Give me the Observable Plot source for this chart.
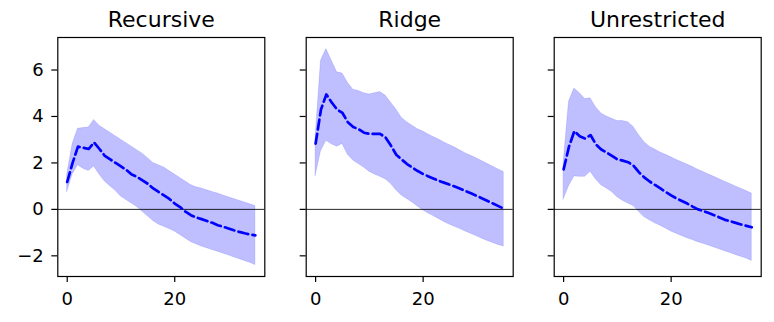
<!DOCTYPE html>
<html>
<head>
<meta charset="utf-8">
<script src="https://cdn.jsdelivr.net/npm/d3@7"></script>
<script src="https://cdn.jsdelivr.net/npm/@observablehq/plot@0.6"></script>
<style>
  html, body { margin: 0; padding: 0; background: white; }
  #chart { display: flex; width: 774px; height: 322px; }
  #chart svg { display: block; background: transparent; }
</style>
</head>
<body>
<div id="chart"></div>
<script>
const titles = ["Recursive", "Ridge", "Unrestricted"];
const horizons = [0,1,2,3,4,5,6,7,8,9,10,11,12,13,14,15,16,17,18,19,20,21,22,23,24,25,26,27,28,29,30,31,32,33,34,35];
const yTicks = [-2, 0, 2, 4, 6];
const xTicks = [0, 20];

const recursiveMean  = [1.18,2.0,2.7,2.65,2.6,2.88,2.6,2.3,2.15,2.0,1.85,1.7,1.5,1.4,1.25,1.1,0.9,0.75,0.6,0.45,0.25,0.1,-0.1,-0.25,-0.35,-0.42,-0.5,-0.58,-0.68,-0.75,-0.82,-0.9,-0.97,-1.03,-1.08,-1.12];
const recursiveUpper = [1.5,2.8,3.47,3.5,3.52,3.85,3.6,3.45,3.3,3.15,3.0,2.85,2.7,2.55,2.4,2.2,2.0,1.9,1.8,1.65,1.5,1.35,1.2,1.05,0.95,0.9,0.82,0.75,0.68,0.6,0.52,0.45,0.37,0.3,0.22,0.15];
const recursiveLower = [0.75,1.5,1.9,1.75,1.65,1.85,1.5,1.2,1.0,0.8,0.55,0.4,0.25,0.1,-0.1,-0.3,-0.5,-0.65,-0.75,-0.85,-0.95,-1.1,-1.25,-1.4,-1.5,-1.6,-1.67,-1.75,-1.82,-1.9,-1.98,-2.06,-2.14,-2.22,-2.3,-2.4];

const ridgeMean  = [2.83,4.3,4.95,4.6,4.3,4.15,3.75,3.55,3.45,3.3,3.25,3.25,3.25,3.1,2.75,2.35,2.15,1.95,1.8,1.65,1.52,1.42,1.32,1.22,1.14,1.06,0.97,0.88,0.78,0.68,0.58,0.47,0.36,0.25,0.14,0.03];
const ridgeUpper = [3.1,6.4,6.9,6.4,5.9,5.85,5.45,5.15,5.1,5.0,4.95,5.0,5.05,4.9,4.6,4.3,3.95,3.75,3.6,3.45,3.35,3.22,3.1,3.0,2.87,2.76,2.65,2.52,2.4,2.3,2.19,2.07,1.95,1.84,1.72,1.61];
const ridgeLower = [1.44,2.5,2.95,2.8,2.7,2.82,2.35,2.1,1.95,1.8,1.62,1.5,1.4,1.3,1.1,0.82,0.6,0.45,0.3,0.12,-0.04,-0.18,-0.3,-0.42,-0.55,-0.66,-0.76,-0.86,-0.96,-1.06,-1.16,-1.26,-1.36,-1.45,-1.53,-1.6];

const unrestrictedMean  = [1.72,2.7,3.37,3.15,3.05,3.2,2.8,2.58,2.45,2.3,2.15,2.1,2.03,1.88,1.6,1.38,1.2,1.05,0.9,0.75,0.6,0.47,0.36,0.25,0.12,0.0,-0.07,-0.16,-0.25,-0.35,-0.45,-0.51,-0.58,-0.65,-0.71,-0.77];
const unrestrictedUpper = [2.0,4.63,5.2,5.0,4.75,4.78,4.4,4.13,4.0,3.9,3.8,3.8,3.75,3.55,3.2,2.9,2.7,2.58,2.45,2.35,2.24,2.13,2.03,1.93,1.82,1.71,1.61,1.5,1.4,1.3,1.19,1.09,0.99,0.89,0.79,0.68];
const unrestrictedLower = [0.42,1.0,1.42,1.4,1.4,1.62,1.3,1.04,0.9,0.75,0.52,0.37,0.25,0.14,-0.1,-0.33,-0.47,-0.6,-0.7,-0.82,-0.95,-1.05,-1.15,-1.24,-1.32,-1.41,-1.48,-1.56,-1.64,-1.72,-1.8,-1.88,-1.96,-2.04,-2.12,-2.22];

const panels = [
  {title: titles[0], mean: recursiveMean, upper: recursiveUpper, lower: recursiveLower},
  {title: titles[1], mean: ridgeMean, upper: ridgeUpper, lower: ridgeLower},
  {title: titles[2], mean: unrestrictedMean, upper: unrestrictedUpper, lower: unrestrictedLower}
];

// svg boxes: [width, marginLeft, marginRight]
const boxes = [[285, 57.3, 20.7], [248, 20.7, 20.3], [241, 20.7, 13.3]];

const chart = document.getElementById("chart");
panels.forEach((p, k) => {
  const rows = horizons.map((h, i) => ({h, mean: p.mean[i], upper: p.upper[i], lower: p.lower[i]}));
  const [w, ml, mr] = boxes[k];
  const svg = Plot.plot({
    width: w,
    height: 322,
    marginLeft: ml,
    marginRight: mr,
    marginTop: 37,
    marginBottom: 46,
    style: {fontFamily: "'DejaVu Sans', sans-serif", fontSize: "18px", color: "black", background: "transparent"},
    x: {domain: [-1.75, 36.75]},
    y: {domain: [-2.89, 7.4]},
    marks: [
      Plot.areaY(rows, {x: "h", y1: "lower", y2: "upper", fill: "blue", fillOpacity: 0.25, stroke: "blue", strokeOpacity: 0.12, strokeWidth: 1}),
      Plot.ruleY([0], {stroke: "black", strokeWidth: 1, strokeOpacity: 0.85}),
      Plot.lineY(rows, {x: "h", y: "mean", stroke: "blue", strokeWidth: 2.7, strokeDasharray: "10,4.3"}),
      Plot.axisY({ticks: yTicks, tickSize: 6, tickPadding: 8, label: null, strokeWidth: 1.2, tickFormat: k === 0 ? (d => d3.format("d")(d).replace("-", "\u2212")) : (() => "")}),
      Plot.axisX({ticks: xTicks, tickSize: 6, tickPadding: 10, label: null, strokeWidth: 1.2}),
      Plot.frame({stroke: "black", strokeWidth: 1.2}),
      Plot.text([p.title], {text: d => d, frameAnchor: "top", dy: -26, fontSize: 22, fill: "black"})
    ]
  });
  chart.appendChild(svg);
});
</script>
</body>
</html>
